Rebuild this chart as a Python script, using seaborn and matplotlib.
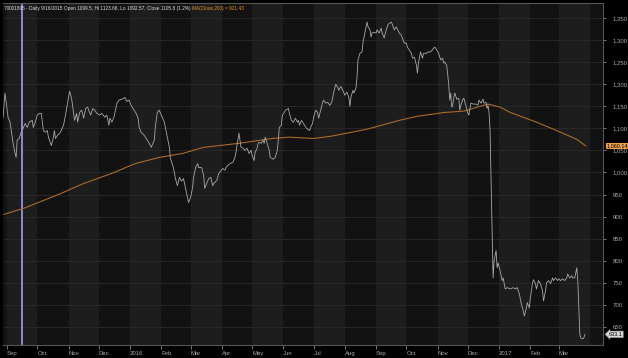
import numpy as np
import pandas as pd
import matplotlib
matplotlib.use("Agg")
import matplotlib.pyplot as plt
import matplotlib.dates as mdates
import matplotlib.ticker as mticker
import seaborn as sns

# daily close
price_dates = [
    "2015-08-28", "2015-08-30", "2015-09-02", "2015-09-04", "2015-09-07", "2015-09-09", "2015-09-10",
    "2015-09-11", "2015-09-13", "2015-09-15", "2015-09-17", "2015-09-19", "2015-09-21", "2015-09-23",
    "2015-09-26", "2015-09-27", "2015-09-29", "2015-10-01", "2015-10-03", "2015-10-05", "2015-10-07",
    "2015-10-09", "2015-10-11", "2015-10-12", "2015-10-15", "2015-10-17", "2015-10-18", "2015-10-19",
    "2015-10-21", "2015-10-24", "2015-10-27", "2015-10-29", "2015-10-31", "2015-11-02", "2015-11-04",
    "2015-11-06", "2015-11-07", "2015-11-09", "2015-11-10", "2015-11-12", "2015-11-14", "2015-11-16",
    "2015-11-18", "2015-11-20", "2015-11-21", "2015-11-23", "2015-11-25", "2015-11-27", "2015-11-29",
    "2015-12-02", "2015-12-04", "2015-12-07", "2015-12-09", "2015-12-11", "2015-12-12", "2015-12-14",
    "2015-12-16", "2015-12-17", "2015-12-19", "2015-12-21", "2015-12-24", "2015-12-27", "2015-12-29",
    "2015-12-31", "2016-01-02", "2016-01-05", "2016-01-07", "2016-01-09", "2016-01-10", "2016-01-12",
    "2016-01-15", "2016-01-17", "2016-01-20", "2016-01-22", "2016-01-25", "2016-01-26", "2016-01-28",
    "2016-01-30", "2016-02-01", "2016-02-04", "2016-02-05", "2016-02-07", "2016-02-09", "2016-02-10",
    "2016-02-13", "2016-02-15", "2016-02-17", "2016-02-19", "2016-02-21", "2016-02-23", "2016-02-25",
    "2016-02-27", "2016-02-28", "2016-03-01", "2016-03-03", "2016-03-04", "2016-03-06", "2016-03-08",
    "2016-03-09", "2016-03-12", "2016-03-14", "2016-03-15", "2016-03-17", "2016-03-19", "2016-03-21",
    "2016-03-23", "2016-03-24", "2016-03-27", "2016-03-29", "2016-04-02", "2016-04-04", "2016-04-05",
    "2016-04-07", "2016-04-09", "2016-04-12", "2016-04-14", "2016-04-15", "2016-04-16", "2016-04-18",
    "2016-04-19", "2016-04-20", "2016-04-22", "2016-04-24", "2016-04-26", "2016-04-28", "2016-04-30",
    "2016-05-01", "2016-05-03", "2016-05-04", "2016-05-06", "2016-05-07", "2016-05-08", "2016-05-10",
    "2016-05-12", "2016-05-13", "2016-05-14", "2016-05-16", "2016-05-18", "2016-05-19", "2016-05-22",
    "2016-05-24", "2016-05-26", "2016-05-27", "2016-05-28", "2016-05-30", "2016-05-31", "2016-06-02",
    "2016-06-03", "2016-06-06", "2016-06-07", "2016-06-09", "2016-06-11", "2016-06-13", "2016-06-15",
    "2016-06-16", "2016-06-17", "2016-06-19", "2016-06-22", "2016-06-24", "2016-06-27", "2016-06-29",
    "2016-06-30", "2016-07-01", "2016-07-03", "2016-07-05", "2016-07-06", "2016-07-08", "2016-07-10",
    "2016-07-11", "2016-07-13", "2016-07-15", "2016-07-17", "2016-07-19", "2016-07-21", "2016-07-23",
    "2016-07-25", "2016-07-26", "2016-07-28", "2016-07-30", "2016-08-01", "2016-08-03", "2016-08-05",
    "2016-08-06", "2016-08-07", "2016-08-09", "2016-08-10", "2016-08-12", "2016-08-13", "2016-08-14",
    "2016-08-16", "2016-08-18", "2016-08-19", "2016-08-21", "2016-08-23", "2016-08-24", "2016-08-26",
    "2016-08-27", "2016-08-28", "2016-08-30", "2016-09-01", "2016-09-02", "2016-09-04", "2016-09-06",
    "2016-09-07", "2016-09-09", "2016-09-11", "2016-09-13", "2016-09-16", "2016-09-17", "2016-09-19",
    "2016-09-21", "2016-09-24", "2016-09-26", "2016-09-27", "2016-09-29", "2016-10-01", "2016-10-02",
    "2016-10-04", "2016-10-06", "2016-10-07", "2016-10-09", "2016-10-11", "2016-10-12", "2016-10-13",
    "2016-10-15", "2016-10-17", "2016-10-18", "2016-10-21", "2016-10-22", "2016-10-25", "2016-10-29",
    "2016-10-30", "2016-11-02", "2016-11-04", "2016-11-06", "2016-11-07", "2016-11-08", "2016-11-10",
    "2016-11-12", "2016-11-13", "2016-11-14", "2016-11-15", "2016-11-16", "2016-11-17", "2016-11-18",
    "2016-11-20", "2016-11-22", "2016-11-23", "2016-11-24", "2016-11-26", "2016-11-27", "2016-11-29",
    "2016-12-01", "2016-12-02", "2016-12-04", "2016-12-06", "2016-12-07", "2016-12-09", "2016-12-11",
    "2016-12-12", "2016-12-14", "2016-12-16", "2016-12-17", "2016-12-19", "2016-12-20", "2016-12-21",
    "2016-12-22", "2016-12-23", "2016-12-26", "2016-12-27", "2016-12-29", "2016-12-30", "2016-12-31",
    "2017-01-02", "2017-01-04", "2017-01-05", "2017-01-07", "2017-01-09", "2017-01-12", "2017-01-15",
    "2017-01-17", "2017-01-19", "2017-01-21", "2017-01-23", "2017-01-25", "2017-01-26", "2017-01-28",
    "2017-01-29", "2017-01-31", "2017-02-01", "2017-02-03", "2017-02-04", "2017-02-06", "2017-02-07",
    "2017-02-09", "2017-02-11", "2017-02-13", "2017-02-14", "2017-02-16", "2017-02-17", "2017-02-19",
    "2017-02-21", "2017-02-23", "2017-02-24", "2017-02-26", "2017-02-28", "2017-03-01", "2017-03-03",
    "2017-03-05", "2017-03-07", "2017-03-09", "2017-03-10", "2017-03-12", "2017-03-14", "2017-03-15",
    "2017-03-17", "2017-03-19", "2017-03-20", "2017-03-22", "2017-03-23", "2017-03-25", "2017-03-26",
    "2017-03-27",
]
price_close = [
    1123, 1180, 1125, 1114, 1066, 1043, 1034,
    1073, 1077, 1091, 1100, 1111, 1102, 1114,
    1118, 1102, 1114, 1130, 1134, 1134, 1095,
    1091, 1095, 1080, 1061, 1080, 1095, 1077,
    1084, 1091, 1107, 1130, 1157, 1184, 1168,
    1134, 1118, 1134, 1114, 1136, 1141, 1123,
    1145, 1148, 1141, 1130, 1145, 1141, 1134,
    1130, 1134, 1125, 1130, 1107, 1123, 1114,
    1125, 1136, 1157, 1164, 1166, 1170, 1161,
    1164, 1152, 1141, 1134, 1123, 1102, 1091,
    1084, 1077, 1066, 1057, 1073, 1102, 1136,
    1141, 1130, 1114, 1102, 1080, 1057, 1032,
    1011, 986, 970, 989, 980, 986, 964,
    943, 932, 943, 966, 989, 1011, 1020,
    1011, 1011, 993, 964, 975, 986, 989,
    970, 975, 982, 998, 1009, 1005, 1011,
    1016, 1020, 1023, 1034, 1045, 1061, 1089,
    1073, 1057, 1055, 1050, 1055, 1043, 1050,
    1039, 1027, 1045, 1055, 1066, 1068, 1066,
    1073, 1066, 1080, 1066, 1050, 1034, 1030,
    1034, 1050, 1073, 1102, 1107, 1130, 1136,
    1141, 1145, 1134, 1118, 1114, 1123, 1114,
    1118, 1107, 1118, 1107, 1100, 1095, 1107,
    1111, 1125, 1141, 1136, 1123, 1141, 1159,
    1164, 1157, 1159, 1152, 1159, 1182, 1200,
    1193, 1186, 1195, 1186, 1175, 1182, 1170,
    1150, 1170, 1186, 1180, 1191, 1214, 1255,
    1270, 1273, 1295, 1318, 1341, 1330, 1323,
    1307, 1316, 1318, 1316, 1323, 1316, 1327,
    1316, 1305, 1323, 1336, 1341, 1336, 1323,
    1330, 1316, 1311, 1305, 1293, 1293, 1284,
    1277, 1270, 1259, 1261, 1243, 1225, 1248,
    1273, 1259, 1270, 1270, 1273, 1273, 1284,
    1282, 1270, 1255, 1259, 1248, 1250, 1243,
    1200, 1164, 1180, 1148, 1152, 1170, 1180,
    1166, 1168, 1141, 1152, 1166, 1168, 1152,
    1134, 1130, 1157, 1155, 1155, 1155, 1152,
    1164, 1157, 1166, 1157, 1159, 1145, 1152,
    1136, 1095, 761, 800, 823, 784, 795,
    777, 755, 761, 736, 739, 736, 739,
    736, 739, 725, 702, 686, 675, 693,
    705, 693, 716, 748, 757, 748, 736,
    755, 748, 732, 709, 732, 750, 755,
    748, 761, 755, 761, 755, 759, 755,
    759, 755, 761, 770, 761, 766, 761,
    761, 784, 755, 634, 625, 623, 625,
    633.1,
]

# 200-day moving average
ma_dates = [
    "2015-08-29", "2015-09-19", "2015-10-24", "2015-11-16", "2015-12-14", "2016-01-06", "2016-01-30",
    "2016-02-22", "2016-03-14", "2016-04-18", "2016-05-21", "2016-06-07", "2016-07-01", "2016-07-18",
    "2016-08-23", "2016-09-24", "2016-10-11", "2016-11-08", "2016-11-27", "2016-12-21", "2017-01-02",
    "2017-01-12", "2017-02-07", "2017-02-27", "2017-03-19", "2017-03-28",
]
ma_values = [
    905, 920, 952, 975, 998, 1020, 1034,
    1043, 1057, 1066, 1077, 1080, 1077, 1082,
    1098, 1118, 1127, 1136, 1139, 1155, 1148,
    1136, 1114, 1095, 1075, 1060.14,
]

y_ticks = list(range(650, 1351, 50))
header = "70001806 - Daily 9/16/2015 Open 1099.5, Hi 1123.68, Lo 1092.57, Close 1105.8 (1.2%) "
ma_header = "MA(Close,200) = 921.43"
marker_date = "2015-09-16"
last_close = "633.1"
last_ma = "1,060.14"

price = pd.DataFrame({"date": pd.to_datetime(price_dates), "close": price_close})
ma = pd.DataFrame({"date": pd.to_datetime(ma_dates), "ma": ma_values})

sns.set_style("dark")
plt.rcParams["font.family"] = ["Liberation Sans", "DejaVu Sans"]

fig = plt.figure(figsize=(6.28, 3.58), dpi=100, facecolor="black")
ax = fig.add_axes([3 / 628, 13 / 358, 600 / 628, 342 / 358])
ax.set_facecolor("#161616")

x0, x1 = pd.Timestamp("2015-08-28"), pd.Timestamp("2017-04-14")

# alternating month bands
for m in pd.date_range("2015-08-01", "2017-04-01", freq="MS"):
    shade = "#1d1d1d" if m.month % 2 == 1 else "#121212"
    ax.axvspan(m, m + pd.offsets.MonthBegin(1), color=shade, lw=0, zorder=0)

ax.yaxis.grid(True, color="#2a2a2a", lw=0.6, zorder=1)
ax.xaxis.grid(False)

ax.axvline(pd.Timestamp(marker_date), color="#8c8cd8", lw=1.4, zorder=2)

sns.lineplot(data=ma, x="date", y="ma", ax=ax, color="#a86a2c", lw=0.8, zorder=3)
sns.lineplot(data=price, x="date", y="close", ax=ax, color="#a8a8a8", lw=0.6, zorder=4)

ax.set_xlim(x0, x1)
ax.set_ylim(609, 1384)
ax.set_xlabel("")
ax.set_ylabel("")

month_ticks = pd.date_range("2015-09-01", "2017-03-01", freq="MS")
ax.set_xticks(month_ticks)
ax.set_xticklabels([str(d.year) if d.month == 1 else d.strftime("%b") for d in month_ticks], ha="left")
ax.tick_params(axis="x", colors="#a8a8a8", labelsize=4.3, length=3, width=0.5, pad=1, direction="out",
               bottom=True)

ax.yaxis.tick_right()
ax.set_yticks(y_ticks)
ax.yaxis.set_major_formatter(mticker.FuncFormatter(lambda v, p: f"{v:,.0f}"))
ax.tick_params(axis="y", colors="#a8a8a8", labelsize=4.3, length=2, width=0.5, pad=5, right=True)

for side, sp in ax.spines.items():
    sp.set_color("#555555")
    sp.set_linewidth(0.8)
ax.spines["left"].set_visible(False)

t1 = ax.text(0.002, 0.992, header, transform=ax.transAxes, ha="left", va="top",
             fontsize=3.4, color="#e0e0e0", zorder=6)
ax.annotate(ma_header, xy=(1, 0), xycoords=t1, ha="left", va="bottom",
            fontsize=3.4, color="#e8902c", zorder=6)

ytr = ax.get_yaxis_transform()
ax.annotate(last_ma, xy=(1.0, ma_values[-1]), xycoords=ytr, xytext=(2.5, 0), textcoords="offset points",
            ha="left", va="center", fontsize=4, color="black", annotation_clip=False, zorder=7,
            bbox=dict(boxstyle="square,pad=0.15", fc="#f0a04c", ec="none"))
ax.annotate(last_close, xy=(1.0, price_close[-1]), xycoords=ytr, xytext=(4, 0), textcoords="offset points",
            ha="left", va="center", fontsize=4, color="black", annotation_clip=False, zorder=7,
            bbox=dict(boxstyle="larrow,pad=0.15", fc="#d8d8d8", ec="#888888", lw=0.3))

fig.savefig("out.png", dpi=100, facecolor="black")
